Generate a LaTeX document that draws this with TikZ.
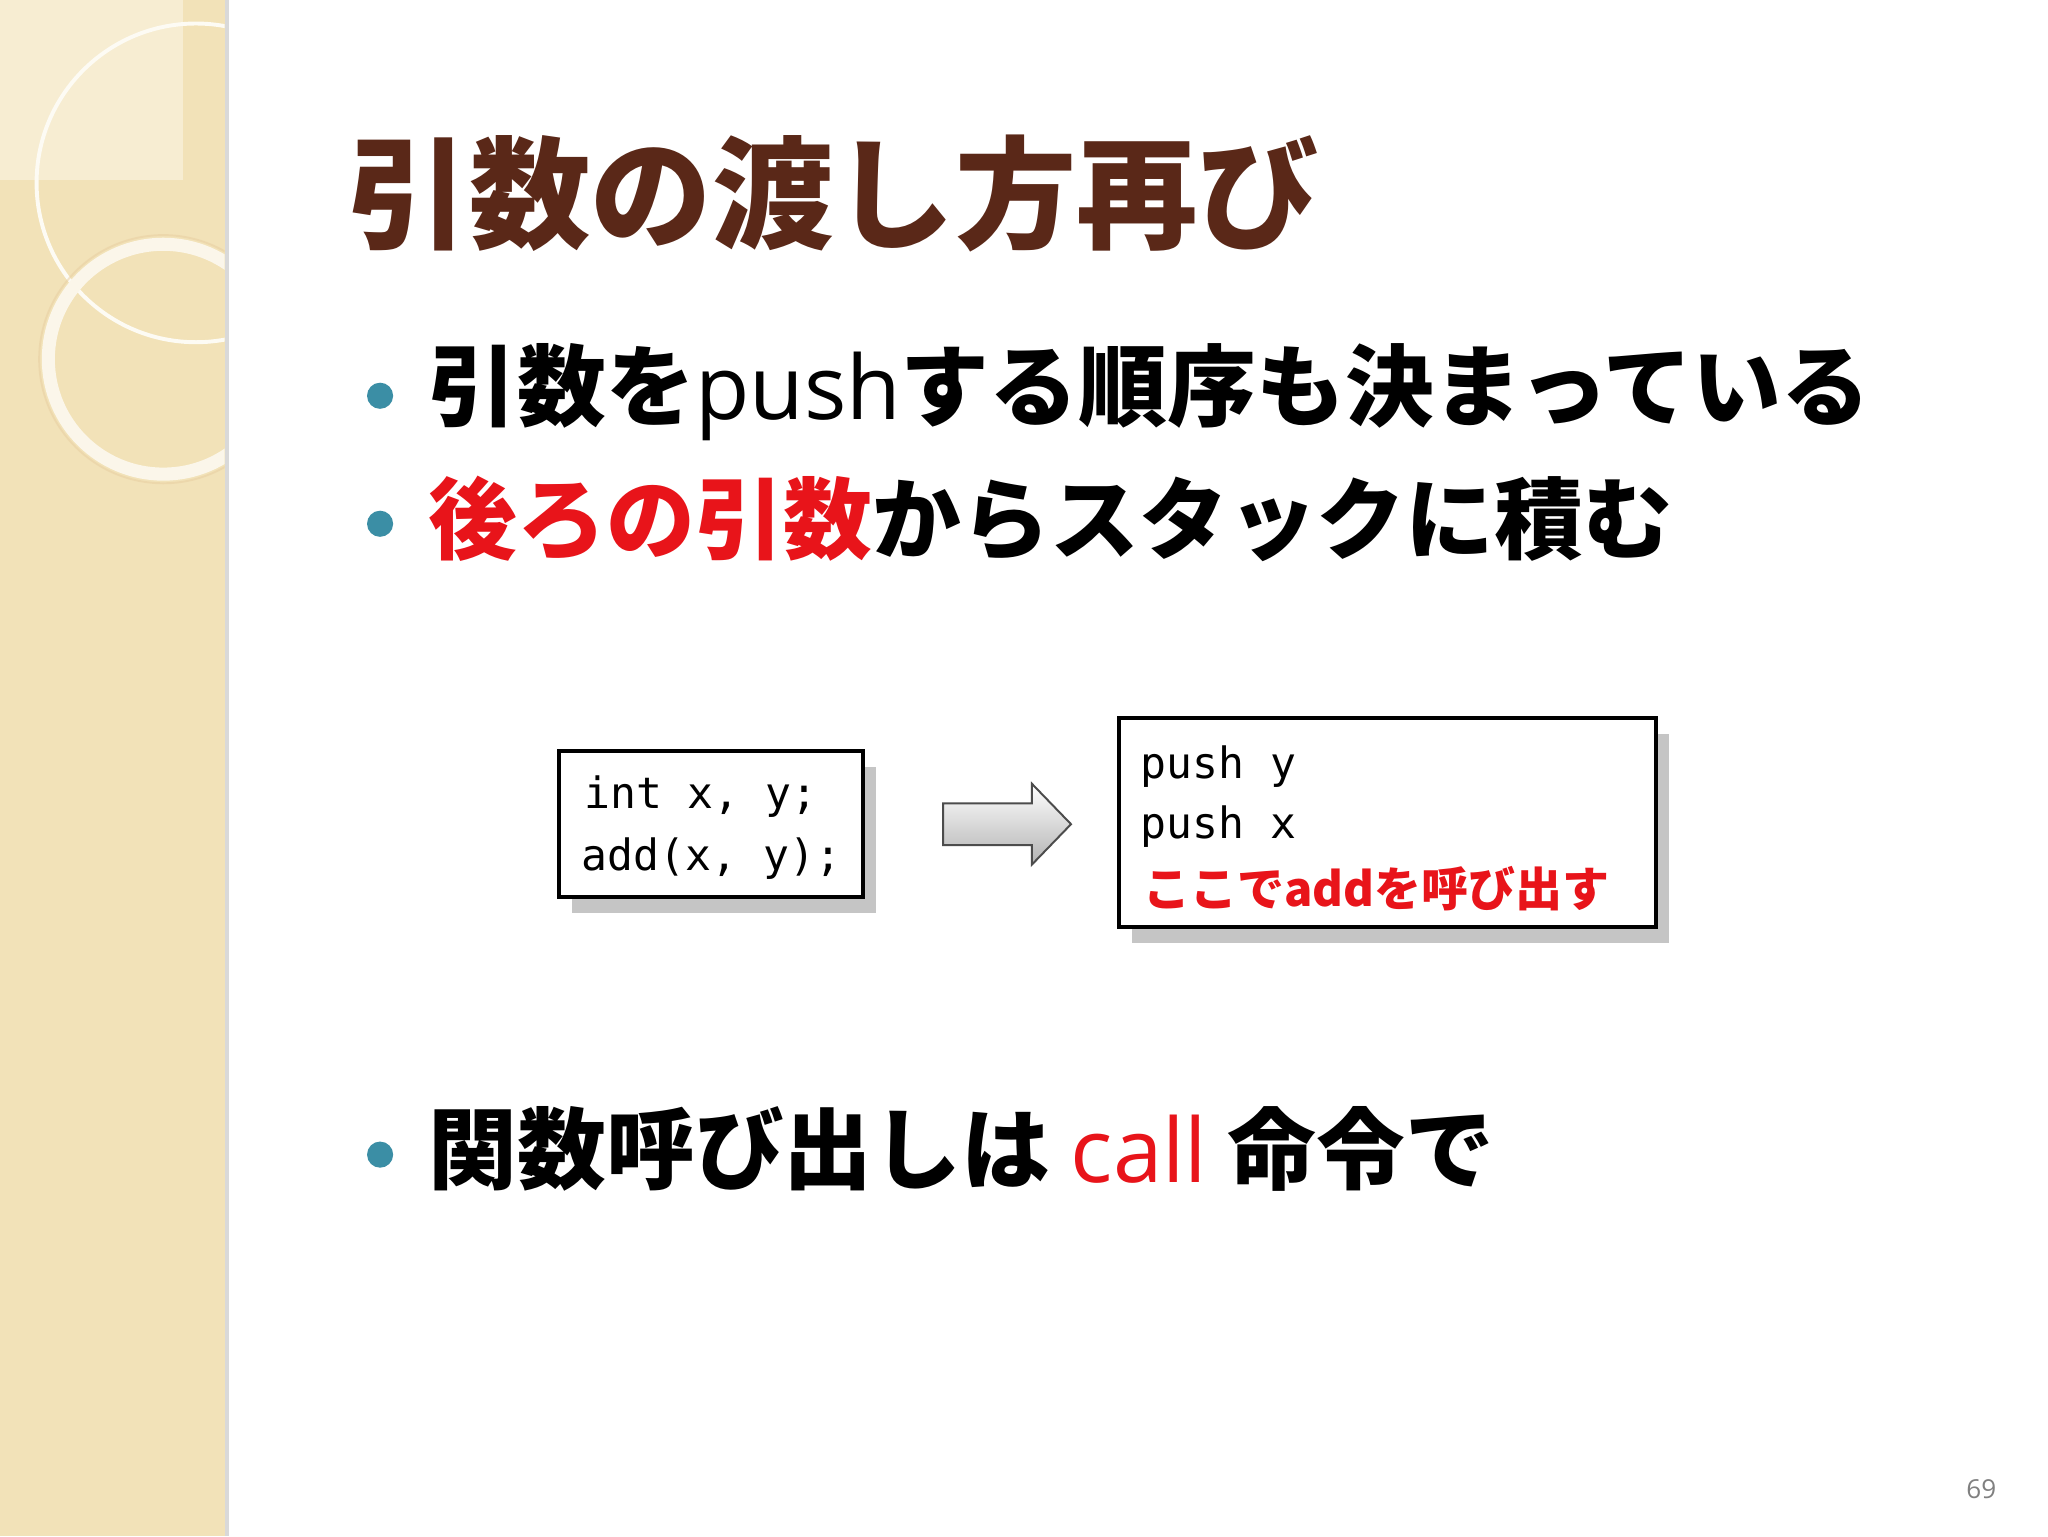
\documentclass[tikz,border=0pt]{standalone}
\usepackage{fontspec}
\newfontfamily\cjk{Noto Sans CJK JP}
\newfontfamily\lat{Open Sans}
\newfontfamily\mono{DejaVu Sans Mono}
\usetikzlibrary{shadows}
\definecolor{beige}{HTML}{F2E2B8}
\definecolor{beigel}{HTML}{F7EDD2}
\definecolor{titlec}{HTML}{5A2818}
\definecolor{teal}{HTML}{3B8EA5}
\definecolor{redc}{HTML}{E8141A}
\tikzset{
 bul/.style={circle,fill=teal,inner sep=0pt,minimum size=20pt},
 btxt/.style={anchor=west,inner sep=0pt,font=\cjk\bfseries\fontsize{68}{74}\selectfont},
 codebox/.style={draw=black,line width=3pt,fill=white,drop shadow={shadow xshift=10pt,shadow yshift=-12pt,opacity=0.45,fill=gray}},
 code/.style={anchor=west,inner sep=0pt,font=\mono\fontsize{33}{38}\selectfont}
}
\begin{document}
\begin{tikzpicture}[x=1pt,y=-1pt]
\useasboundingbox (0,0) rectangle (1568,1176);
\fill[white] (0,0) rectangle (1568,1176);
\fill[beige] (0,0) rectangle (172,1176);
\fill[beigel] (0,0) rectangle (140,138);
\fill[gray!30] (172,0) rectangle (175,1176);
\begin{scope}
\clip (0,0) rectangle (172,1176);
\draw[white!85!beige,line width=3pt] (150,140) circle (122);
\draw[white!70!beige,line width=10pt] (125,275) circle (88);
\draw[beige!80!brown,line width=1.5pt,opacity=0.5] (125,275) circle (95);
\end{scope}
\node[anchor=west,inner sep=0pt,font=\cjk\bfseries\fontsize{93}{100}\selectfont,text=titlec] (title) at (266,148) {引数の渡し方再び};
\node[bul] (b1) at (291,303) {};
\node[btxt] (t1) at (328,300) {引数を{\lat\mdseries push}する順序も決まっている};
\node[bul] (b2) at (291,401) {};
\node[btxt] (t2) at (328,397) {\textcolor{redc}{後ろの引数}からスタックに積む};
\node[bul] (b3) at (291,884) {};
\node[btxt] (t3) at (328,880) {関数呼び出しは {\lat\mdseries\textcolor{redc}{call}} 命令で};
\draw[codebox] (428,575) rectangle (661,687);
\node[code] (c1) at (447,610) {int x, y;};
\node[code] (c2) at (445,657) {add(x, y);};
\shade[top color=white,bottom color=gray!60,draw=black!70,line width=1.5pt]
 (722,615) -- (790,615) -- (790,600) -- (820,631) -- (790,662) -- (790,647) -- (722,647) -- cycle;
\draw[codebox] (857,550) rectangle (1268,710);
\node[code] (d1) at (873,587) {push y};
\node[code] (d2) at (873,633) {push x};
\node[code,font=\cjk\bfseries\fontsize{36}{40}\selectfont,text=redc] (d3) at (875,680) {ここでaddを呼び出す};
\node[font=\lat\fontsize{20}{24}\selectfont,text=gray] (pg) at (1517,1140) {69};
\end{tikzpicture}
\end{document}
